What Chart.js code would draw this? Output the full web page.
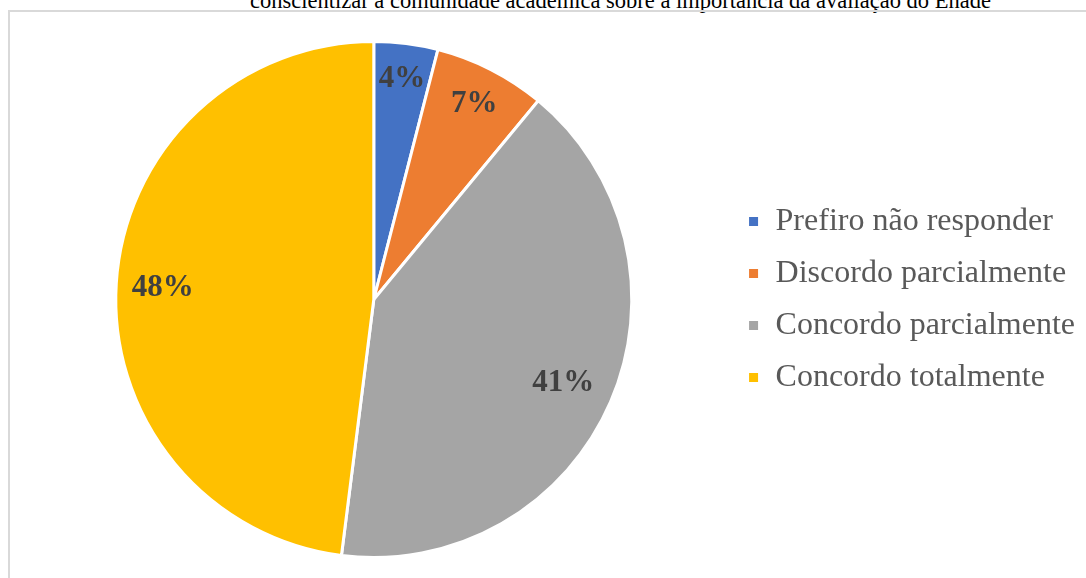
<!DOCTYPE html>
<html>
<head>
<meta charset="utf-8">
<script src="https://cdn.jsdelivr.net/npm/chart.js@4/dist/chart.umd.min.js"></script>
<style>
  html, body { margin: 0; padding: 0; background: #fff; overflow: hidden; }
  #page { position: relative; width: 1086px; height: 578px; overflow: hidden; }
  #caption {
    position: absolute; left: 250px; top: -10px; white-space: nowrap;
    font-family: "Liberation Serif", "Times New Roman", serif; font-size: 22.5px; line-height: 22px; color: #000;
  }
  #frame {
    position: absolute; left: 8px; top: 10px; width: 1200px; height: 700px;
    border: 2px solid #d9d9d9;
  }
  #wrap { position: absolute; left: 0; top: 0; width: 1086px; height: 578px; }
</style>
</head>
<body>
<div id="page">
  <div id="caption">conscientizar a comunidade acadêmica sobre a importância da avaliação do Enade</div>
  <div id="frame"></div>
  <div id="wrap"><canvas id="pie" width="1086" height="578"></canvas></div>
</div>
<script>
const categories = ['Prefiro não responder', 'Discordo parcialmente', 'Concordo parcialmente', 'Concordo totalmente'];
const percents = [4, 7, 41, 48];
const colors = ['#4472C4', '#ED7D31', '#A5A5A5', '#FFC000'];
// how far out each label sits, as a fraction of the radius
const labelRadius = [0.87, 0.858, 0.80, 0.82];

const sliceLabels = {
    id: 'sliceLabels',
    afterDatasetsDraw(chart) {
        const ctx = chart.ctx;
        const arcs = chart.getDatasetMeta(0).data;
        ctx.save();
        ctx.font = 'bold 31px "Liberation Serif", "Times New Roman", serif';
        ctx.fillStyle = '#404040';
        ctx.textAlign = 'center';
        ctx.textBaseline = 'middle';
        arcs.forEach((arc, i) => {
            const p = arc.getProps(['x', 'y', 'startAngle', 'endAngle', 'outerRadius'], true);
            const mid = (p.startAngle + p.endAngle) / 2;
            const r = p.outerRadius * labelRadius[i];
            // serif digits sit a little high on 'middle', nudge down
            ctx.fillText(percents[i] + '%', p.x + Math.cos(mid) * r, p.y + Math.sin(mid) * r + 2);
        });
        ctx.restore();
    }
};

var ctx = document.getElementById('pie').getContext('2d');
var pie = new Chart(ctx, {
    type: 'pie',
    data: {
        labels: categories,
        datasets: [{
            data: percents,
            backgroundColor: colors,
            borderColor: '#ffffff',
            borderWidth: 3,
            hoverOffset: 0
        }]
    },
    options: {
        responsive: false,
        animation: false,
        layout: {
            padding: { top: 40, bottom: 19, left: 20, right: 1 }
        },
        plugins: {
            tooltip: { enabled: false },
            legend: {
                display: true,
                position: 'right',
                labels: {
                    boxWidth: 12,
                    boxHeight: 12,
                    padding: 20,
                    color: '#595959',
                    font: { family: '"Liberation Serif", "Times New Roman", serif', size: 32 }
                }
            }
        }
    },
    plugins: [sliceLabels]
});
</script>
</body>
</html>
